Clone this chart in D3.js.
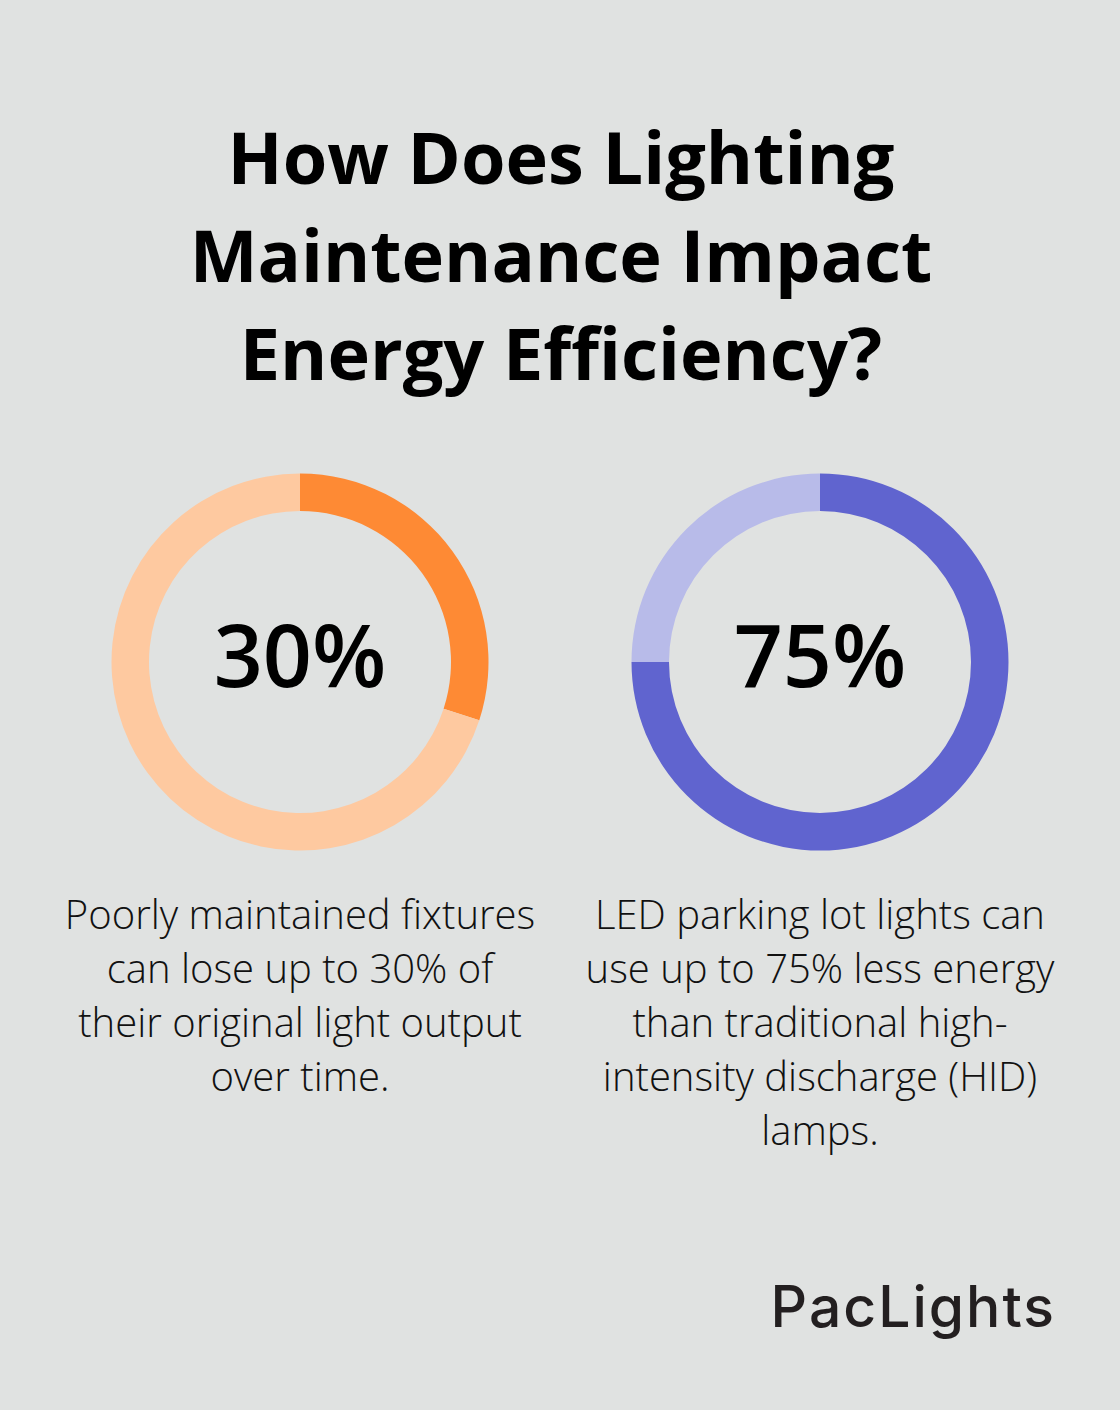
<!DOCTYPE html>
<html>
<head>
<meta charset="utf-8">
<script src="https://cdn.jsdelivr.net/npm/d3@7"></script>
<style>
  html, body { margin: 0; padding: 0; background: #e0e2e1; }
  svg { display: block; }
</style>
</head>
<body>
<svg id="chart" width="1120" height="1410"></svg>
<script>
const titleLines = ["How Does Lighting", "Maintenance Impact", "Energy Efficiency?"];
const metrics = ["30%", "75%"];
const values = [30, 75];
const mainColors = ["#fe8a34", "#6064cf"];
const restColors = ["#fec9a0", "#b8bbe9"];
const captions = [
  ["Poorly maintained fixtures", "can lose up to 30% of", "their original light output", "over time."],
  ["LED parking lot lights can", "use up to 75% less energy", "than traditional high-", "intensity discharge (HID)", "lamps."]
];
const brand = "PacLights";

const W = 1120, H = 1410;
const svg = d3.select("#chart");
svg.append("rect").attr("width", W).attr("height", H).attr("fill", "#e0e2e1");

// Title
svg.append("g").selectAll("text").data(titleLines).join("text")
  .attr("x", 561)
  .attr("y", (d, i) => 184 + i * 98)
  .attr("text-anchor", "middle")
  .attr("font-family", "'Open Sans', sans-serif")
  .attr("font-weight", 700)
  .attr("font-size", 72)
  .attr("fill", "#000")
  .text(d => d);

const x = d3.scalePoint().domain(d3.range(values.length)).range([300, 820]);
const pie = d3.pie().sort(null).startAngle(0).endAngle(2 * Math.PI);
const arc = d3.arc().innerRadius(151).outerRadius(188.5);

values.forEach((v, i) => {
  const g = svg.append("g").attr("transform", `translate(${x(i)},662)`);
  g.selectAll("path").data(pie([v, 100 - v])).join("path")
    .attr("d", arc)
    .attr("fill", (d, j) => j === 0 ? mainColors[i] : restColors[i]);
  g.append("text")
    .attr("y", 25)
    .attr("text-anchor", "middle")
    .attr("font-family", "'Open Sans', sans-serif")
    .attr("font-weight", 550)
    .attr("font-size", 86)
    .attr("fill", "#000")
    .text(metrics[i]);

  svg.append("g").selectAll("text").data(captions[i]).join("text")
    .attr("x", x(i))
    .attr("y", (d, k) => 929 + k * 54)
    .attr("text-anchor", "middle")
    .attr("font-family", "'Open Sans', sans-serif")
    .attr("font-weight", 300)
    .attr("font-size", 40)
    .attr("fill", "#111")
    .text(d => d);
});

// Brand
svg.append("text")
  .attr("x", 1056)
  .attr("y", 1327)
  .attr("text-anchor", "end")
  .attr("font-family", "Inter, sans-serif")
  .attr("font-weight", 500)
  .attr("font-size", 57)
  .attr("letter-spacing", 2)
  .attr("fill", "#231f20")
  .text(brand);
</script>
</body>
</html>
